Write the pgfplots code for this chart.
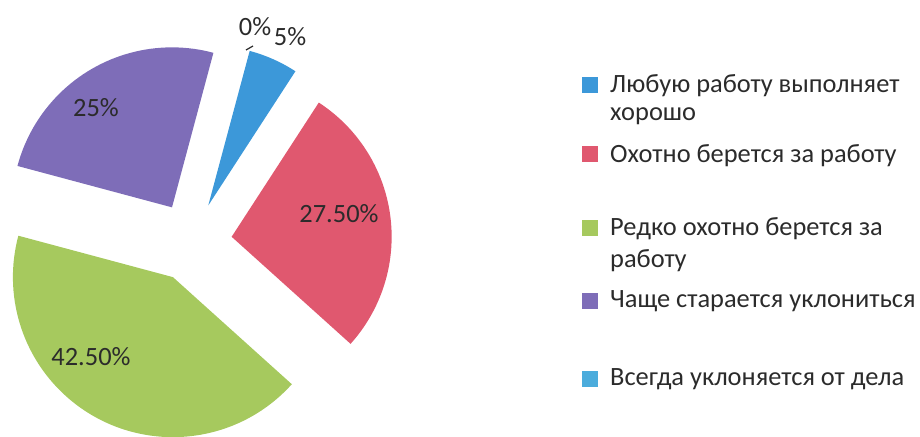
\documentclass[border=0pt]{standalone}
\usepackage{pgfplots}
\pgfplotsset{compat=1.18}
\usepackage{pgfplotstable}
\usepackage{fontspec}
\setmainfont{Carlito}

\definecolor{slice0}{HTML}{3C98D9}
\definecolor{slice1}{HTML}{E0586F}
\definecolor{slice2}{HTML}{A6C95E}
\definecolor{slice3}{HTML}{7E6DB8}
\definecolor{slice4}{HTML}{4BACDC}
\definecolor{txt}{HTML}{2B2B2B}

% share of answers, percent (order as in the legend)
\pgfplotstableread{
value
5
27.5
42.5
25
0
}\piedata

\begin{document}
\begin{tikzpicture}[lbl/.style={font=\fontsize{26.5}{30}\selectfont, text=txt, inner sep=0pt}]
\begin{axis}[
  x=1bp, y=1bp,
  xmin=0, xmax=920, ymin=0, ymax=437,
  scale only axis, hide axis, clip=false,
]
\def\cx{192}\def\cy{195}\def\R{160}\def\d{40}
\pgfmathsetmacro\cum{75}
\pgfplotsforeachungrouped \i in {0,...,4}{%
  \pgfplotstablegetelem{\i}{value}\of\piedata
  \let\v\pgfplotsretval
  \pgfmathsetmacro\aS{\cum}
  \pgfmathsetmacro\aE{\cum-3.6*\v}
  \pgfmathsetmacro\aM{(\aS+\aE)/2}
  \pgfmathsetmacro\tx{\cx+\d*cos(\aM)}
  \pgfmathsetmacro\ty{\cy+\d*sin(\aM)}
  \pgfmathsetmacro\px{\tx+\R*cos(\aS)}
  \pgfmathsetmacro\py{\ty+\R*sin(\aS)}
  \ifdim\v pt>0pt
    \edef\temp{\noexpand\fill[slice\i] (axis cs:\tx,\ty) -- (axis cs:\px,\py)
      arc[start angle=\aS, end angle=\aE, radius=\R bp] -- cycle;}
    \temp
  \fi
  \global\let\cum\aE
}

% data labels
\node[lbl] at (axis cs:96,329) {25\%};
\node[lbl] at (axis cs:339,223) {27.50\%};
\node[lbl] at (axis cs:91,80) {42.50\%};
\node[lbl] at (axis cs:290,400) {5\%};
\node[lbl] at (axis cs:255,410) {0\%};
\draw[txt, line width=1.2bp] (axis cs:246,387) -- (axis cs:253,391);

% legend
\fill[slice0] (axis cs:582,344) rectangle (axis cs:598,360);
\fill[slice1] (axis cs:582,275) rectangle (axis cs:598,291);
\fill[slice2] (axis cs:582,201) rectangle (axis cs:598,217);
\fill[slice3] (axis cs:582,128) rectangle (axis cs:598,144);
\fill[slice4] (axis cs:582,50) rectangle (axis cs:598,66);
\node[lbl, anchor=base west] at (axis cs:610,344) {Любую работу выполняет};
\node[lbl, anchor=base west] at (axis cs:610,316) {хорошо};
\node[lbl, anchor=base west] at (axis cs:610,274) {Охотно берется за работу};
\node[lbl, anchor=base west] at (axis cs:610,201) {Редко охотно берется за};
\node[lbl, anchor=base west] at (axis cs:610,169) {работу};
\node[lbl, anchor=base west] at (axis cs:610,129) {Чаще старается уклониться};
\node[lbl, anchor=base west] at (axis cs:610,51) {Всегда уклоняется от дела};
\end{axis}
\pgfresetboundingbox
\path[use as bounding box] (current axis.south west) rectangle (current axis.north east);
\end{tikzpicture}
\end{document}
